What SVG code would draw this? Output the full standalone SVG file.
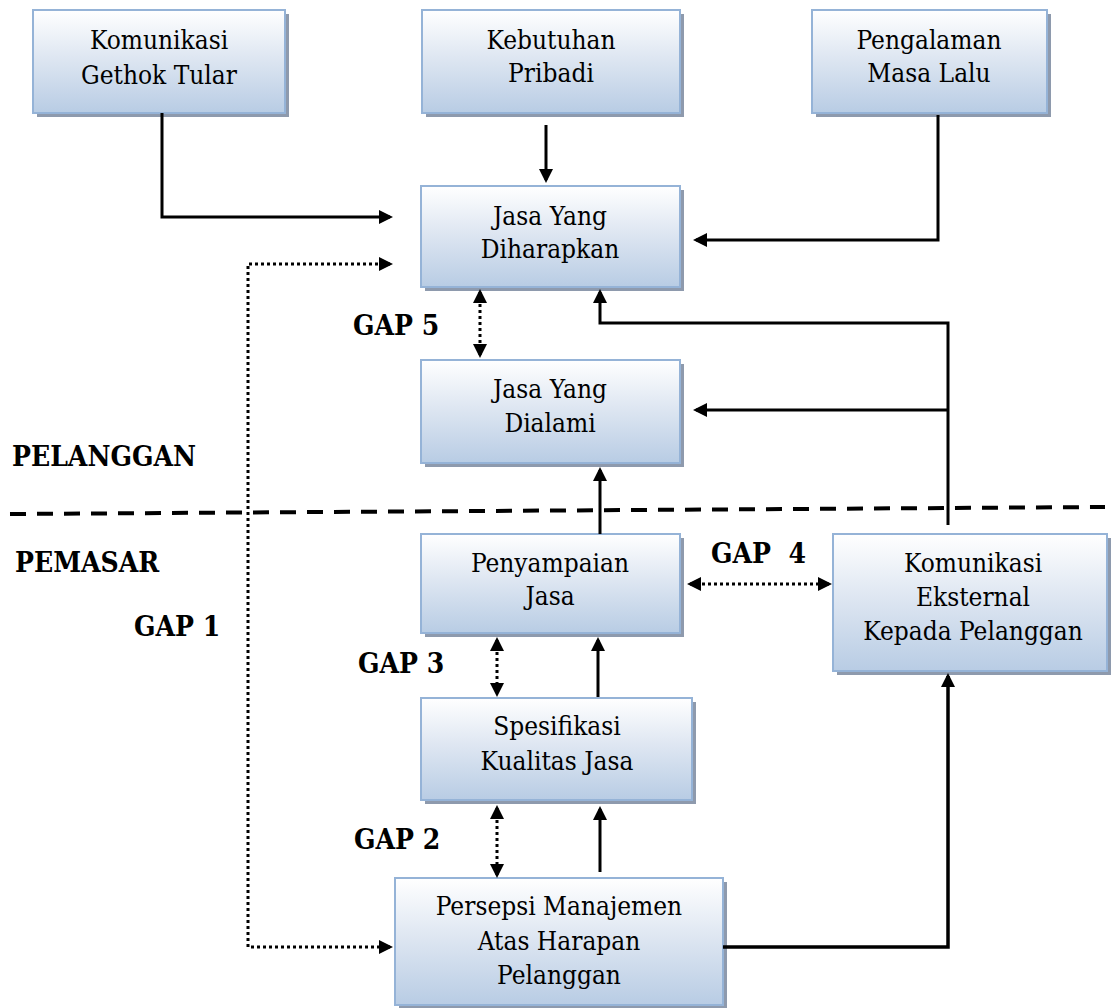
<svg xmlns="http://www.w3.org/2000/svg" width="1112" height="1008" viewBox="0 0 1112 1008">
<style>
.box{fill:url(#g);stroke:#95b3d7;stroke-width:2}
.sh{fill:#8e9aad}
.t{font-family:"DejaVu Serif Condensed","DejaVu Serif",serif;font-stretch:condensed;font-size:26px;fill:#000;text-anchor:middle}
.lb{font-family:"DejaVu Serif Condensed","DejaVu Serif",serif;font-stretch:condensed;font-size:28px;font-weight:bold;fill:#000}
.c{fill:none;stroke:#000;stroke-width:3}
.d{fill:none;stroke:#000;stroke-width:3;stroke-dasharray:3 3}
</style>
<defs>
<linearGradient id="g" x1="0" y1="0" x2="0" y2="1">
<stop offset="0" stop-color="#ffffff"/>
<stop offset="0.45" stop-color="#dfe7f2"/>
<stop offset="1" stop-color="#b8cce4"/>
</linearGradient>
<marker id="a" viewBox="0 0 14 14" markerWidth="14" markerHeight="14" refX="11" refY="7" orient="auto-start-reverse" markerUnits="userSpaceOnUse">
<path d="M0,0 L14,7 L0,14 Z" fill="#000"/>
</marker>
</defs>
<rect width="1112" height="1008" fill="#fff"/>
<g id="n-gethok"><rect class="sh" x="37" y="14" width="252" height="103"/><rect class="box" x="33" y="10" width="252" height="103"/><text class="t" x="159" y="49">Komunikasi</text><text class="t" x="159" y="84">Gethok Tular</text></g>
<g id="n-kebutuhan"><rect class="sh" x="426" y="14" width="258" height="103"/><rect class="box" x="422" y="10" width="258" height="103"/><text class="t" x="551" y="49">Kebutuhan</text><text class="t" x="551" y="82">Pribadi</text></g>
<g id="n-pengalaman"><rect class="sh" x="816" y="14" width="235" height="103"/><rect class="box" x="812" y="10" width="235" height="103"/><text class="t" x="929" y="49">Pengalaman</text><text class="t" x="929" y="82">Masa Lalu</text></g>
<g id="n-diharapkan"><rect class="sh" x="425" y="190" width="259" height="101"/><rect class="box" x="421" y="186" width="259" height="101"/><text class="t" x="550" y="225">Jasa Yang</text><text class="t" x="550" y="258">Diharapkan</text></g>
<g id="n-dialami"><rect class="sh" x="425" y="364" width="259" height="103"/><rect class="box" x="421" y="360" width="259" height="103"/><text class="t" x="550" y="398">Jasa Yang</text><text class="t" x="550" y="432">Dialami</text></g>
<g id="n-penyampaian"><rect class="sh" x="425" y="538" width="259" height="99"/><rect class="box" x="421" y="534" width="259" height="99"/><text class="t" x="550" y="572">Penyampaian</text><text class="t" x="550" y="605">Jasa</text></g>
<g id="n-spesifikasi"><rect class="sh" x="425" y="702" width="271" height="102"/><rect class="box" x="421" y="698" width="271" height="102"/><text class="t" x="557" y="735">Spesifikasi</text><text class="t" x="557" y="770">Kualitas Jasa</text></g>
<g id="n-eksternal"><rect class="sh" x="837" y="538" width="274" height="137"/><rect class="box" x="833" y="534" width="274" height="137"/><text class="t" x="973" y="572">Komunikasi</text><text class="t" x="973" y="606">Eksternal</text><text class="t" x="973" y="640">Kepada Pelanggan</text></g>
<g id="n-persepsi"><rect class="sh" x="399" y="882" width="328" height="127"/><rect class="box" x="395" y="878" width="328" height="127"/><text class="t" x="559" y="915">Persepsi Manajemen</text><text class="t" x="559" y="950">Atas Harapan</text><text class="t" x="559" y="984">Pelanggan</text></g>
<g id="labels">
<text class="lb" x="12" y="466">PELANGGAN</text>
<text class="lb" x="15" y="572">PEMASAR</text>
<text class="lb" x="134" y="636">GAP 1</text>
<text class="lb" x="353" y="335">GAP 5</text>
<text class="lb" x="358" y="673">GAP 3</text>
<text class="lb" x="354" y="849">GAP 2</text>
<text class="lb" x="711" y="563" xml:space="preserve">GAP  4</text>
</g>
<g id="connectors">
<path d="M10,514 L1105,507" fill="none" stroke="#000" stroke-width="4" stroke-dasharray="16 11"/>
<path class="c" d="M162,113 V217 H390" marker-end="url(#a)"/>
<path class="c" d="M546,125 V180" marker-end="url(#a)"/>
<path class="c" d="M938,115 V240 H696" marker-end="url(#a)"/>
<path class="c" d="M948,525 V323 H600 V292" marker-end="url(#a)"/>
<path class="c" d="M948,410 H696" marker-end="url(#a)"/>
<path class="c" d="M600,534 V470" marker-end="url(#a)"/>
<path class="c" d="M598,697 V640" marker-end="url(#a)"/>
<path class="c" d="M600,872 V809" marker-end="url(#a)"/>
<path class="c" style="stroke-width:3.5" d="M723,947 H948 V676" marker-end="url(#a)"/>
<path class="d" d="M390,264 H248 V947 H390" marker-start="url(#a)" marker-end="url(#a)"/>
<path class="d" d="M480,292 V355" marker-start="url(#a)" marker-end="url(#a)"/>
<path class="d" d="M497,640 V694" marker-start="url(#a)" marker-end="url(#a)"/>
<path class="d" d="M497,808 V875" marker-start="url(#a)" marker-end="url(#a)"/>
<path class="d" d="M690,584 H829" marker-start="url(#a)" marker-end="url(#a)"/>
</g>
</svg>
